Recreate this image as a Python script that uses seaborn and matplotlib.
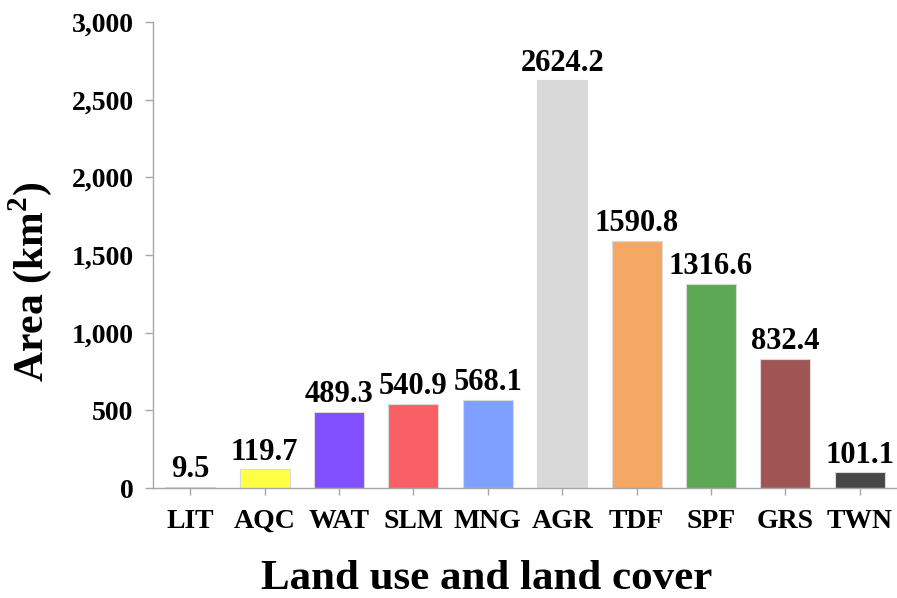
import pandas as pd
import seaborn as sns
import matplotlib.pyplot as plt
from matplotlib.ticker import StrMethodFormatter

# land use / land cover classes and their areas (km2)
classes = ['LIT', 'AQC', 'WAT', 'SLM', 'MNG', 'AGR', 'TDF', 'SPF', 'GRS', 'TWN']
area = [9.5, 119.7, 489.3, 540.9, 568.1, 2624.2, 1590.8, 1316.6, 832.4, 101.1]
bar_colors = ['#F040F0', '#FFFF44', '#8050FF', '#F86065', '#80A0FF',
              '#D9D9D9', '#F5A864', '#5DA855', '#A05555', '#474747']

df = pd.DataFrame({'Class': classes, 'Area': area})

sns.set_style('white')
plt.rcParams['font.family'] = ['Liberation Serif', 'DejaVu Serif']
plt.rcParams['font.weight'] = 'bold'
plt.rcParams['text.color'] = 'black'
plt.rcParams['axes.labelcolor'] = 'black'
plt.rcParams['xtick.color'] = 'black'
plt.rcParams['ytick.color'] = 'black'
plt.rcParams['mathtext.fontset'] = 'custom'
plt.rcParams['mathtext.bf'] = 'Liberation Serif:bold'
plt.rcParams['mathtext.rm'] = 'Liberation Serif:bold'

fig = plt.figure(figsize=(8.97, 5.98), dpi=100)
ax = fig.add_axes([0.1706, 0.1839, 0.8294, 0.7793])

sns.barplot(data=df, x='Class', y='Area', hue='Class', palette=bar_colors,
            saturation=1, legend=False, width=0.67, edgecolor='#DADADA',
            linewidth=0.8, ax=ax)

# value labels on top of each bar
for cont in ax.containers:
    ax.bar_label(cont, fmt='%.1f', padding=2, fontsize=22, fontweight='bold',
                 color='black')

ax.set_ylim(0, 3000)
ax.set_xlim(-0.5, len(classes) - 0.5)
ax.set_yticks(range(0, 3001, 500))
ax.yaxis.set_major_formatter(StrMethodFormatter('{x:,.0f}'))

for s in ['top', 'right']:
    ax.spines[s].set_visible(False)
for s in ['left', 'bottom']:
    ax.spines[s].set_color('#A6A6A6')
    ax.spines[s].set_linewidth(1)

ax.tick_params(axis='y', which='major', direction='out', length=6, width=1,
               color='#A6A6A6', labelcolor='black', labelsize=20, pad=8, left=True)
ax.tick_params(axis='x', which='major', direction='out', length=5, width=1,
               color='#A6A6A6', labelcolor='black', labelsize=20, pad=10, bottom=True)
for lab in ax.get_xticklabels() + ax.get_yticklabels():
    lab.set_fontweight('bold')

ax.set_xlabel('Land use and land cover', fontsize=31, fontweight='bold')
ax.set_ylabel('Area (km$^\\mathbf{2}$)', fontsize=30, fontweight='bold')
ax.xaxis.set_label_coords(0.448, -0.155)
ax.yaxis.set_label_coords(-0.133, 0.442)
ax.grid(False)

plt.savefig('out.png', dpi=100)
